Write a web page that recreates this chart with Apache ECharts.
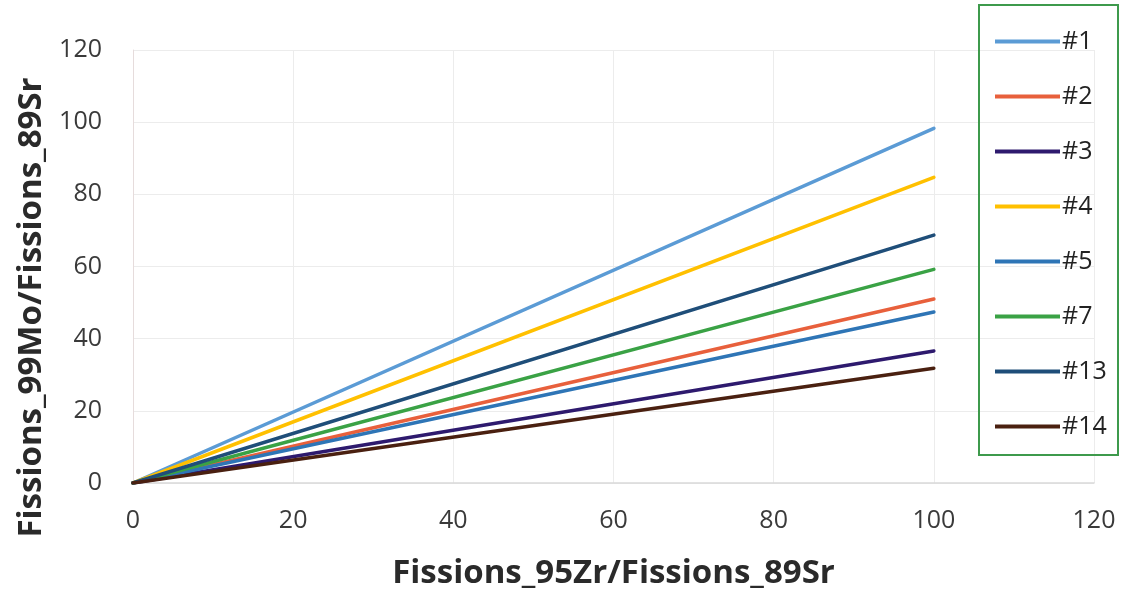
<!DOCTYPE html>
<html><head><meta charset="utf-8">
<script src="https://cdn.jsdelivr.net/npm/echarts@6/dist/echarts.min.js"></script>
<style>html,body{margin:0;padding:0;background:#fff}#c{width:1125px;height:597px}</style>
</head><body><div id="c"></div>
<script>
const seriesNames = ['#1','#2','#3','#4','#5','#7','#13','#14'];
const xValues = [0, 100];
const endValues = [98.3, 51.0, 36.6, 84.7, 47.4, 59.2, 68.7, 31.8];
const colors = ['#5B9BD5','#E8603C','#2E1A6E','#FFC000','#2E75B6','#3AA245','#1F4E79','#4A2010'];
const xTicks = [0,20,40,60,80,100,120];
const yTicks = [0,20,40,60,80,100,120];
const xTitle = 'Fissions_95Zr/Fissions_89Sr';
const yTitle = 'Fissions_99Mo/Fissions_89Sr';

const font = '"Open Sans", "Liberation Sans", sans-serif';
const chart = echarts.init(document.getElementById('c'), null, {renderer:'canvas'});
chart.setOption({
  animation:false,
  backgroundColor:'#fff',
  grid:{left:133, right:31, top:50, bottom:114, containLabel:false},
  xAxis:{type:'value', min:xTicks[0], max:xTicks[xTicks.length-1], interval:20,
    name:xTitle, nameLocation:'middle', nameGap:74,
    nameTextStyle:{fontFamily:font, fontSize:33, fontWeight:'bold', color:'#2a2a2a'},
    axisLine:{lineStyle:{color:'#d9d9d9', width:1.5}}, axisTick:{show:false},
    axisLabel:{fontFamily:font, fontSize:25, color:'#3a3a3a', margin:25},
    splitLine:{lineStyle:{color:'#ececec'}}},
  yAxis:{type:'value', min:yTicks[0], max:yTicks[yTicks.length-1], interval:20,
    name:yTitle, nameLocation:'middle', nameGap:84,
    nameTextStyle:{fontFamily:font, fontSize:33, fontWeight:'bold', color:'#2a2a2a', padding:[0,82,0,0]},
    axisLine:{show:true, lineStyle:{color:'#e6dcdc', width:1}}, axisTick:{show:false},
    axisLabel:{fontFamily:font, fontSize:25, color:'#3a3a3a', margin:31},
    splitLine:{lineStyle:{color:'#ececec'}}},
  legend:{orient:'vertical', left:990, top:24, itemWidth:65, itemHeight:14, itemGap:30,
    icon:'path://M0,5 L65,5 L65,9 L0,9 Z',
    textStyle:{fontFamily:font, fontSize:25, color:'#222', padding:[2,0,0,-3]},
    data:seriesNames},
  graphic:[{type:'rect', shape:{x:979, y:5, width:139, height:450},
    style:{fill:null, stroke:'#3E9A4C', lineWidth:2}, z:100}],
  series: seriesNames.map((n,i)=>({
    name:n, type:'line', symbol:'none', smooth:false,
    color:colors[i], lineStyle:{width:3.5, color:colors[i], cap:'round'},
    data: xValues.map((x,j)=>[x, j===0 ? 0 : endValues[i]])
  }))
});
</script></body></html>
